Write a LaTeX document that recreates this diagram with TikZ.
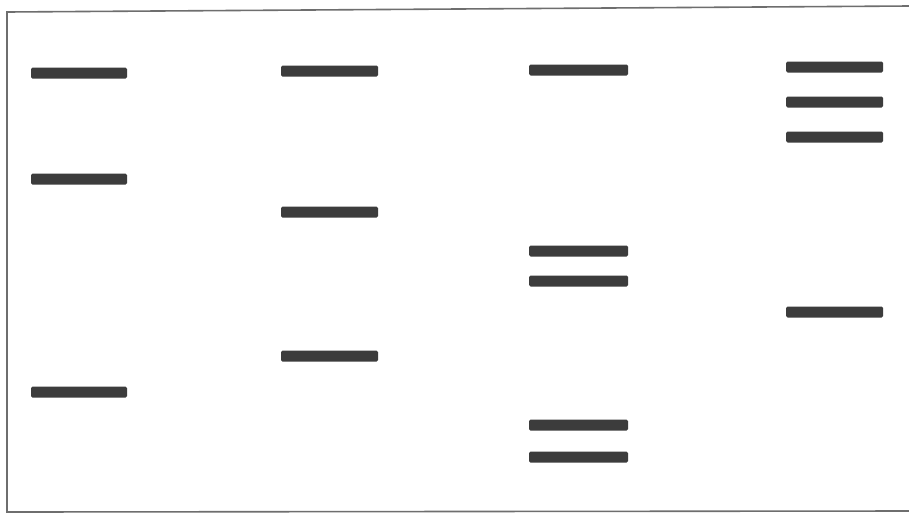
\documentclass[tikz,border=0pt]{standalone}
\definecolor{bandgray}{HTML}{3C3C3C}
\definecolor{framegray}{HTML}{6E6E6E}
\tikzset{
  band/.style={fill=bandgray, draw=none, rounded corners=1.5pt},
  frameline/.style={draw=framegray, line width=1.6pt}
}
\begin{document}
\begin{tikzpicture}[x=1pt,y=-1pt]
\useasboundingbox[fill=white] (0,0) rectangle (909,515);
% frame
\draw[frameline] (909,6) -- (7,12) -- (7,512) -- (909,511);
% lane 1
\foreach \y in {73,179,392} \fill[band] (31,\y-5.5) rectangle (127,\y+5.5);
% lane 2
\foreach \y in {71,212,356} \fill[band] (281,\y-5.5) rectangle (378,\y+5.5);
% lane 3
\foreach \y in {70,251,281,425,457} \fill[band] (529,\y-5.5) rectangle (628,\y+5.5);
% lane 4
\foreach \y in {67,102,137,312} \fill[band] (786,\y-5.5) rectangle (883,\y+5.5);
\end{tikzpicture}
\end{document}
